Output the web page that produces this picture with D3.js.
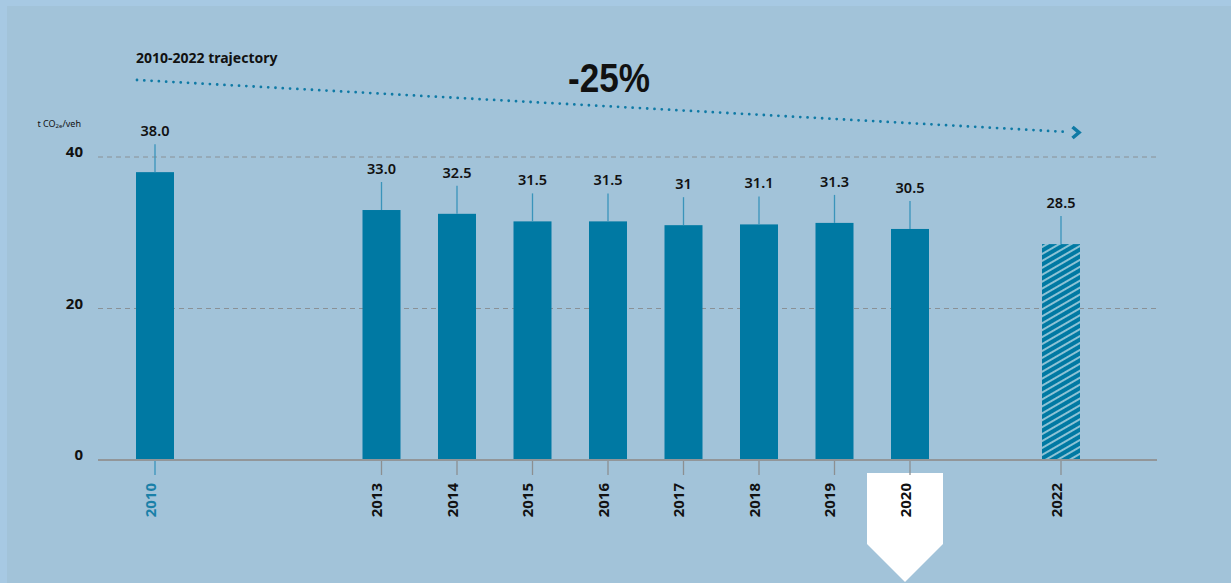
<!DOCTYPE html>
<meta charset="utf-8">
<style>
body { margin: 0; background: #a7c9e3; }
svg { display: block; font-family: "Noto Sans", "Open Sans", sans-serif; }
.grid line { stroke: #8a9196; stroke-width: 1; stroke-dasharray: 5 4; }
.value { font-size: 14.5px; font-weight: 600; fill: #111; }
.year { font-size: 15px; font-weight: 700; }
.ytick { font-size: 15px; font-weight: 700; fill: #111; }
</style>
<svg></svg>
<script src="https://cdn.jsdelivr.net/npm/d3@7"></script>
<script>

var years = [2010, 2013, 2014, 2015, 2016, 2017, 2018, 2019, 2020, 2022];
var values = [38.0, 33.0, 32.5, 31.5, 31.5, 31, 31.1, 31.3, 30.5, 28.5];
var valueLabels = ["38.0", "33.0", "32.5", "31.5", "31.5", "31", "31.1", "31.3", "30.5", "28.5"];
var projectedYears = [2022];
var highlightYear = 2020;
var baseYear = 2010;
var yTicks = [0, 20, 40];
var unitLabel = "t CO";
var trajectoryLabel = "2010-2022 trajectory";
var reductionLabel = "-25%";

var width = 1231, height = 583;
var teal = "#0079a3", lineTeal = "#3a94bb";

var svg = d3.select("svg")
    .attr("width", width)
    .attr("height", height);

// inner panel
svg.append("rect")
    .attr("x", 7).attr("y", 6)
    .attr("width", width - 7).attr("height", height - 6)
    .attr("fill", "#a2c3d9");

var x = d3.scaleLinear().domain([2010, 2022]).range([155, 1061]);
var y = d3.scaleLinear().domain([0, 40]).range([460, 157]);
var barW = 38;

// hatch pattern for projected bar
var defs = svg.append("defs");
var pat = defs.append("pattern")
    .attr("id", "hatch")
    .attr("patternUnits", "userSpaceOnUse")
    .attr("width", 6).attr("height", 6)
    .attr("patternTransform", "rotate(-30)");
pat.append("rect").attr("width", 6).attr("height", 6).attr("fill", teal);
pat.append("line")
    .attr("x1", 0).attr("y1", 3).attr("x2", 6).attr("y2", 3)
    .attr("stroke", "#fff").attr("stroke-width", 1.1);

// gridlines
svg.append("g").attr("class", "grid")
  .selectAll("line")
  .data(yTicks.filter(function(d) { return d > 0; }))
  .enter().append("line")
    .attr("x1", 98).attr("x2", 1157)
    .attr("y1", function(d) { return y(d); })
    .attr("y2", function(d) { return y(d); });

// y tick labels
svg.append("g")
  .selectAll("text")
  .data(yTicks)
  .enter().append("text")
    .attr("class", "ytick")
    .attr("x", 83)
    .attr("y", function(d) { return y(d); })
    .attr("text-anchor", "end")
    .text(function(d) { return d; });

// unit label
var unit = svg.append("text")
    .attr("x", 81).attr("y", 127)
    .attr("text-anchor", "end")
    .attr("font-size", 9)
    .attr("fill", "#111");
unit.append("tspan").text(unitLabel);
unit.append("tspan").attr("font-size", 6).attr("dy", 1).text("2e");
unit.append("tspan").attr("dy", -1).text("/veh");

// bars
var data = years.map(function(yr, i) { return { year: yr, value: values[i], label: valueLabels[i] }; });

svg.append("g")
  .selectAll("rect")
  .data(data)
  .enter().append("rect")
    .attr("x", function(d) { return x(d.year) - barW / 2; })
    .attr("y", function(d) { return y(d.value); })
    .attr("width", barW)
    .attr("height", function(d) { return y(0) - y(d.value); })
    .attr("fill", function(d) { return projectedYears.indexOf(d.year) >= 0 ? "url(#hatch)" : teal; });

// value leader lines and labels
svg.append("g")
  .selectAll("line")
  .data(data)
  .enter().append("line")
    .attr("x1", function(d) { return x(d.year); })
    .attr("x2", function(d) { return x(d.year); })
    .attr("y1", function(d) { return y(d.value) - 28; })
    .attr("y2", function(d) { return y(d.value); })
    .attr("stroke", lineTeal)
    .attr("stroke-width", 1.3);

svg.append("g")
  .selectAll("text")
  .data(data)
  .enter().append("text")
    .attr("class", "value")
    .attr("x", function(d) { return x(d.year); })
    .attr("y", function(d) { return y(d.value) - 36; })
    .attr("text-anchor", "middle")
    .text(function(d) { return d.label; });

// axis baseline
svg.append("line")
    .attr("x1", 98).attr("x2", 1157)
    .attr("y1", y(0)).attr("y2", y(0))
    .attr("stroke", "#929699").attr("stroke-width", 2);

// highlight badge behind 2020
var hx = x(highlightYear) - 5;
svg.append("path")
    .attr("d", "M" + (hx - 38) + ",473 L" + (hx + 38) + ",473 L" + (hx + 38) + ",544 L" + hx + ",582 L" + (hx - 38) + ",544 Z")
    .attr("fill", "#fff");

// ticks
svg.append("g")
  .selectAll("line")
  .data(years)
  .enter().append("line")
    .attr("x1", function(d) { return x(d); })
    .attr("x2", function(d) { return x(d); })
    .attr("y1", y(0) + 1).attr("y2", y(0) + 15)
    .attr("stroke", function(d) { return d === baseYear ? lineTeal : "#8c8f91"; })
    .attr("stroke-width", 1.3);

// year labels
svg.append("g")
  .selectAll("text")
  .data(years)
  .enter().append("text")
    .attr("class", "year")
    .attr("transform", function(d) { return "translate(" + (x(d) + 0.5) + ",483) rotate(-90)"; })
    .attr("text-anchor", "end")
    .style("fill", function(d) { return d === baseYear ? "#1a80a8" : "#111"; })
    .text(function(d) { return d; });

// trajectory
svg.append("text")
    .attr("x", 136).attr("y", 63)
    .attr("font-size", 14).attr("font-weight", 700).attr("fill", "#111")
    .text(trajectoryLabel);

var tx0 = x(2010) - 18, tx1 = x(2022) + 7;
svg.append("line")
    .attr("x1", tx0).attr("y1", 80)
    .attr("x2", tx1).attr("y2", 132)
    .attr("stroke", "#0f7aa5")
    .attr("stroke-width", 2.8)
    .attr("stroke-linecap", "round")
    .attr("stroke-dasharray", "0 7.3");

svg.append("path")
    .attr("d", "M" + (tx1 + 4.5) + ",127 L" + (tx1 + 11) + ",132.5 L" + (tx1 + 4.5) + ",138")
    .attr("fill", "none")
    .attr("stroke", "#0f7aa5")
    .attr("stroke-width", 3.6);

svg.append("text")
    .attr("x", 568).attr("y", 92)
    .attr("font-size", 40).attr("font-weight", 700).attr("fill", "#111")
    .attr("font-family", "'Liberation Sans', Arial, sans-serif")
    .attr("textLength", 82).attr("lengthAdjust", "spacingAndGlyphs")
    .text(reductionLabel);

</script>
